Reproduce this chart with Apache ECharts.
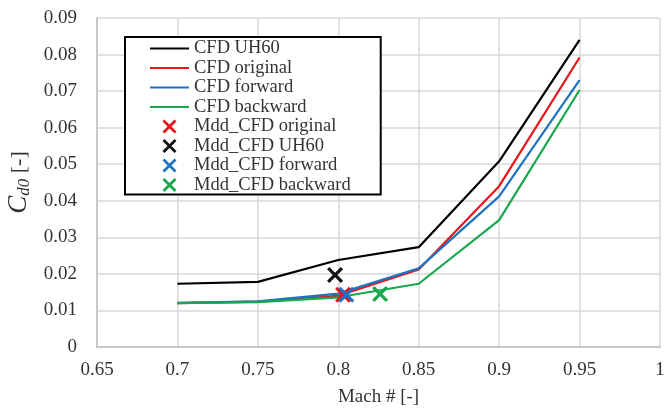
<!DOCTYPE html>
<html>
<head>
<meta charset="utf-8">
<script src="https://cdn.jsdelivr.net/npm/echarts@6/dist/echarts.min.js"></script>
<style>
  html, body { margin: 0; padding: 0; background: #fff; }
  #main { width: 666px; height: 413px; }
</style>
</head>
<body>
<div id="main"></div>
<script>
// Mach numbers and drag coefficient
var machs = [0.7, 0.75, 0.8, 0.85, 0.9, 0.95];
var cfdUH60 = [0.0173, 0.0178, 0.0238, 0.0273, 0.0508, 0.0840];
var cfdOriginal = [0.0120, 0.0124, 0.0140, 0.0212, 0.0440, 0.0792];
var cfdForward = [0.0121, 0.0125, 0.0146, 0.0215, 0.0412, 0.0730];
var cfdBackward = [0.0120, 0.0123, 0.0136, 0.0173, 0.0347, 0.0703];

// drag divergence points [mach, cd0]
var mddOriginal = [0.803, 0.0143];
var mddUH60 = [0.798, 0.0197];
var mddForward = [0.805, 0.0143];
var mddBackward = [0.826, 0.0145];

var xTicks = [0.65, 1.0, 0.05];
var yTicks = [0, 0.09, 0.01];

var serif = 'Liberation Serif';
var textColor = '#333333';
var cross = 'path://M0,1.4L1.4,0L5,3.6L8.6,0L10,1.4L6.4,5L10,8.6L8.6,10L5,6.4L1.4,10L0,8.6L3.6,5Z';
var dash = 'path://M0,0L40,0L40,2.2L0,2.2Z';

function pairs(ys) {
  return machs.map(function (m, i) { return [m, ys[i]]; });
}

function lineSeries(name, ys, color) {
  return {
    name: name,
    type: 'line',
    data: pairs(ys),
    symbol: 'none',
    lineStyle: { color: color, width: 2.2 },
    itemStyle: { color: color },
    z: 2
  };
}

function crossSeries(name, pt, color) {
  return {
    name: name,
    type: 'scatter',
    data: [pt],
    symbol: cross,
    symbolSize: 16,
    itemStyle: { color: color, opacity: 1 },
    z: 3
  };
}

var chart = echarts.init(document.getElementById('main'));

var option = {
  backgroundColor: '#ffffff',
  animation: false,
  grid: { left: 97, right: 6, top: 18, bottom: 66, outerBoundsMode: 'none' },
  legend: {
    orient: 'vertical',
    left: 125,
    top: 37,
    padding: [2, 30, 0, 25],
    itemGap: 0.5,
    itemWidth: 39,
    itemHeight: 14,
    backgroundColor: '#ffffff',
    borderColor: '#000000',
    borderWidth: 2,
    textStyle: { fontFamily: serif, fontSize: 18.5, color: textColor, lineHeight: 18 },
    data: [
      { name: 'CFD UH60', icon: dash },
      { name: 'CFD original', icon: dash },
      { name: 'CFD forward', icon: dash },
      { name: 'CFD backward', icon: dash },
      { name: 'Mdd_CFD original', icon: cross },
      { name: 'Mdd_CFD UH60', icon: cross },
      { name: 'Mdd_CFD forward', icon: cross },
      { name: 'Mdd_CFD backward', icon: cross }
    ]
  },
  xAxis: {
    type: 'value',
    min: xTicks[0],
    max: xTicks[1],
    interval: xTicks[2],
    name: 'Mach # [-]',
    nameLocation: 'middle',
    nameGap: 41,
    nameTextStyle: { fontFamily: serif, fontSize: 19, color: textColor },
    axisLine: { show: true, lineStyle: { color: '#bfbfbf', width: 1.5 } },
    axisTick: { show: false },
    axisLabel: {
      fontFamily: serif, fontSize: 19, color: textColor, margin: 14,
      formatter: function (v) { return String(+v.toFixed(2)); }
    },
    splitLine: { show: true, lineStyle: { color: '#d9d9d9', width: 1.5 } }
  },
  yAxis: {
    type: 'value',
    min: yTicks[0],
    max: yTicks[1],
    interval: yTicks[2],
    name: '{i|C}{s|d0}{n| [-]}',
    nameLocation: 'middle',
    nameGap: 64,
    nameTextStyle: {
      color: textColor,
      rich: {
        i: { fontFamily: serif, fontStyle: 'italic', fontSize: 27, color: textColor, lineHeight: 28 },
        s: { fontFamily: serif, fontStyle: 'italic', fontSize: 17, color: textColor, verticalAlign: 'bottom', lineHeight: 28, padding: [8, 0, 0, 0] },
        n: { fontFamily: serif, fontSize: 22, color: textColor, lineHeight: 28 }
      }
    },
    axisLine: { show: true, lineStyle: { color: '#bfbfbf', width: 1.5 } },
    axisTick: { show: false },
    axisLabel: {
      fontFamily: serif, fontSize: 19, color: textColor, margin: 20,
      formatter: function (v) { return String(+v.toFixed(2)); }
    },
    splitLine: { show: true, lineStyle: { color: '#d9d9d9', width: 1.5 } }
  },
  series: [
    lineSeries('CFD UH60', cfdUH60, '#000000'),
    lineSeries('CFD original', cfdOriginal, '#e8151b'),
    lineSeries('CFD forward', cfdForward, '#1f72c0'),
    lineSeries('CFD backward', cfdBackward, '#17a84e'),
    crossSeries('Mdd_CFD original', mddOriginal, '#e8151b'),
    crossSeries('Mdd_CFD UH60', mddUH60, '#111111'),
    crossSeries('Mdd_CFD forward', mddForward, '#1f72c0'),
    crossSeries('Mdd_CFD backward', mddBackward, '#17a84e')
  ]
};

chart.setOption(option);
</script>
</body>
</html>
